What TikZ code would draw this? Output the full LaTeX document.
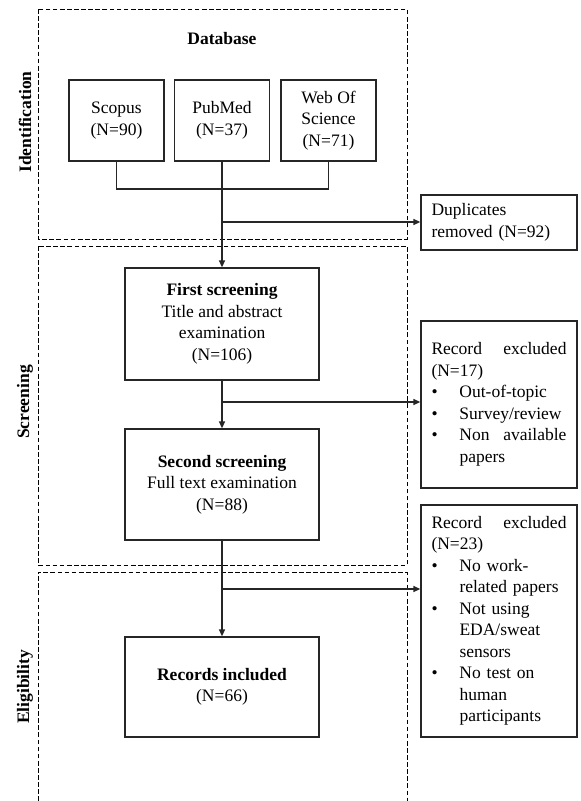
\documentclass[tikz,border=0pt]{standalone}
\usepackage{fontspec}
\setmainfont{Liberation Serif}
\usetikzlibrary{arrows.meta}
\newcommand\mybul{\makebox[28pt][l]{\textbullet}}
\newcommand\myind{\hspace*{28pt}}
\begin{document}
\begin{tikzpicture}[x=1pt,y=-1pt,
  every node/.style={font=\fontsize{17.5}{21.5}\selectfont, inner sep=0pt},
  box/.style={draw=black!85, line width=1.3pt, align=center},
  frame/.style={draw=black, line width=1pt, dash pattern=on 4.7pt off 2.4pt},
  arr/.style={line width=1.3pt, draw=black!85, -{Triangle[length=7pt,width=6pt]}},
  conn/.style={line width=1.3pt, draw=black!85},
  side/.style={rotate=90, font=\fontsize{17.5}{21.5}\selectfont\bfseries},
  exbox/.style={box, align=left, text width=135pt, inner xsep=10.5pt}
]
\useasboundingbox (0,0) rectangle (581,801);
% phase frames
\draw[frame] (38,9) rectangle (407,239);
\draw[frame] (38,246) rectangle (407,565);
\draw[frame] (38,801) -- (38,572) -- (407,572) -- (407,801);

% labels
\node[font=\fontsize{17.5}{21.5}\selectfont\bfseries] (db) at (222,39) {Database};
\node[side] (lid) at (25,122) {Identification};
\node[side] (lsc) at (25,402) {Screening};
\node[side] (lel) at (25,687) {Eligibility};

% sources
\node[box, minimum width=95pt, minimum height=81pt] (scopus) at (116.5,120.5) {Scopus\\(N=90)};
\node[box, minimum width=95pt, minimum height=81pt] (pubmed) at (222,120.5) {PubMed\\(N=37)};
\node[box, minimum width=95pt, minimum height=81pt] (wos) at (328.5,120.5) {Web Of\\Science\\(N=71)};

% main flow
\node[box, minimum width=194pt, minimum height=112pt] (first) at (222,324) {\textbf{First screening}\\Title and abstract\\examination\\(N=106)};
\node[box, minimum width=194pt, minimum height=111pt] (second) at (222,484.5) {\textbf{Second screening}\\Full text examination\\(N=88)};
\node[box, minimum width=194pt, minimum height=100pt] (incl) at (222,687) {\textbf{Records included}\\(N=66)};

% side boxes
\node[exbox, minimum height=55pt] (dup) at (499,222.5) {Duplicates\\removed (N=92)};
\node[exbox, minimum height=167pt] (ex1) at (499,404.5) {\makebox[135pt][l]{Record\hfill excluded}\\(N=17)\\\mybul Out-of-topic\\\mybul Survey/review\\\mybul \makebox[107pt][l]{Non\hfill available}\\\myind papers};
\node[exbox, minimum height=232pt] (ex2) at (499,621) {\makebox[135pt][l]{Record\hfill excluded}\\(N=23)\\\mybul No work-\\\myind related papers\\\mybul Not using\\\myind EDA/sweat\\\myind sensors\\\mybul No test on\\\myind human\\\myind participants};

% connectors
\coordinate (jn) at (222,189);
\draw[conn] (scopus.south) |- (jn) -| (wos.south);
\draw[arr] (pubmed.south) -- (first.north);
\coordinate (b1) at (222,222);
\draw[arr] (b1) -- (b1 -| dup.west);
\draw[arr] (first.south) -- (second.north);
\coordinate (b2) at (222,402);
\draw[arr] (b2) -- (b2 -| ex1.west);
\draw[arr] (second.south) -- (incl.north);
\coordinate (b3) at (222,589);
\draw[arr] (b3) -- (b3 -| ex2.west);
\end{tikzpicture}
\end{document}
